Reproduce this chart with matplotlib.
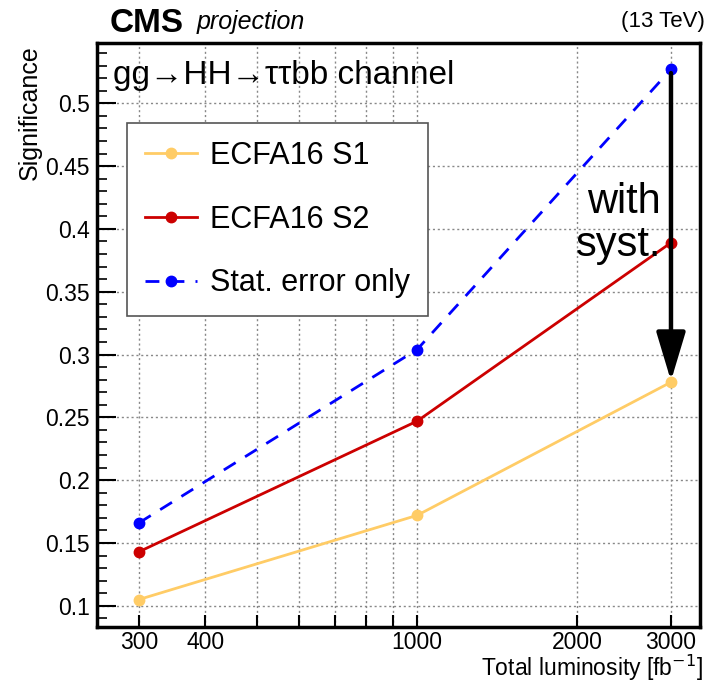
import matplotlib.pyplot as plt
from matplotlib.ticker import FixedLocator, MultipleLocator, NullFormatter

plt.rcParams['font.family'] = ['Liberation Sans', 'DejaVu Sans']

lumi = [300, 1000, 3000]
s1 = [0.105, 0.172, 0.278]
s2 = [0.143, 0.247, 0.389]
stat_only = [0.166, 0.304, 0.527]

xgrid = [300, 400, 500, 600, 700, 800, 900, 1000, 2000, 3000]
xlabels = {300: '300', 400: '400', 1000: '1000', 2000: '2000', 3000: '3000'}

fig = plt.figure(figsize=(7.12, 6.88), dpi=100)
ax = fig.add_axes([0.136, 0.089, 0.847, 0.848])

ax.plot(lumi, s1, '-o', color='#ffcc66', lw=2, ms=7.5, label='ECFA16 S1', zorder=3)
ax.plot(lumi, s2, '-o', color='#cc0000', lw=2, ms=7.5, label='ECFA16 S2', zorder=3)
ax.plot(lumi, stat_only, '--o', color='#0000ff', lw=2, ms=7.5, dashes=(5, 4),
        label='Stat. error only', zorder=3)

ax.set_xscale('log')
ax.set_xlim(250, 3400)
ax.set_ylim(0.0833, 0.5477)

ax.xaxis.set_major_locator(FixedLocator(xgrid))
ax.xaxis.set_minor_locator(FixedLocator([]))
ax.xaxis.set_minor_formatter(NullFormatter())
ax.set_xticklabels([xlabels.get(v, '') for v in xgrid])
ax.yaxis.set_major_locator(MultipleLocator(0.05))
ax.yaxis.set_minor_locator(MultipleLocator(0.01))
ax.yaxis.set_major_formatter(plt.FuncFormatter(lambda v, p: f'{v:g}'))

ax.tick_params(axis='both', which='major', direction='in', labelsize=16.5, width=1.5)
ax.tick_params(axis='y', which='major', length=14, pad=5)
ax.tick_params(axis='y', which='minor', direction='in', length=7, width=1.2)
ax.tick_params(axis='x', which='major', length=9, pad=3)
ax.grid(True, which='major', linestyle=(0, (1.5, 2)), color='#888888', lw=1)
for sp in ax.spines.values():
    sp.set_linewidth(2.5)

fig.text(30 / 712, 1 - 45 / 688, 'Significance', fontsize=18, rotation=90,
         ha='center', va='top')
fig.text(703 / 712, 1 - 676 / 688, 'Total luminosity [fb$^{-1}$]', fontsize=16.5,
         ha='right', va='baseline')

leg = ax.legend(loc='upper left', bbox_to_anchor=(0.05, 0.863), borderaxespad=0,
                fontsize=22, frameon=True, fancybox=False, edgecolor='#555555',
                framealpha=1, labelspacing=1.1, handlelength=1.7, borderpad=0.58,
                handletextpad=0.45)
leg.get_frame().set_linewidth(1.2)

ax.text(0.027, 0.945, 'gg\u2192HH\u2192\u03c4\u03c4bb channel', transform=ax.transAxes,
        fontsize=24, va='center', ha='left')
ax.text(2874, 0.404, 'with\nsyst.', fontsize=30, ha='right', va='center', linespacing=1.1)

ax.annotate('', xy=(3000, 0.279), xytext=(3000, 0.524),
            arrowprops=dict(arrowstyle='-|>,head_length=3.0,head_width=0.9',
                            color='black', lw=3.2, shrinkA=0, shrinkB=0), zorder=4)

fig.text(110 / 712, 1 - 24 / 688, 'CMS', fontsize=24, fontweight='bold', va='center', ha='left')
fig.text(197 / 712, 1 - 22 / 688, 'projection', fontsize=18, style='italic', va='center', ha='left')
fig.text(705 / 712, 1 - 22 / 688, '(13 TeV)', fontsize=16, va='center', ha='right')

fig.savefig('out.png', dpi=100)
